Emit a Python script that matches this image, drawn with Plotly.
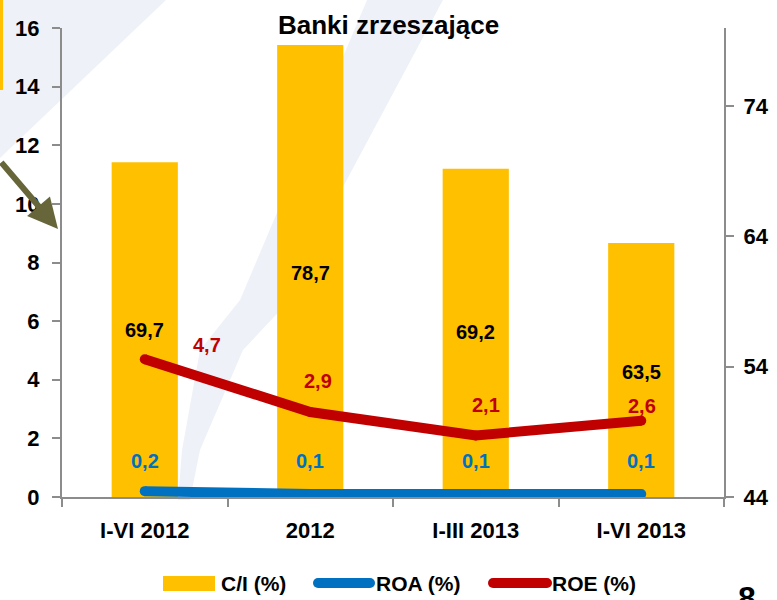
import plotly.graph_objects as go

categories = ["I-VI 2012", "2012", "I-III 2013", "I-VI 2013"]
ci_values = [69.7, 78.7, 69.2, 63.5]
roa_values = [0.2, 0.1, 0.1, 0.1]
roe_values = [4.7, 2.9, 2.1, 2.6]
left_ticks = [0, 2, 4, 6, 8, 10, 12, 14, 16]
right_ticks = [44, 54, 64, 74]

xpos = list(range(len(categories)))
boundaries = [i - 0.5 for i in range(len(categories) + 1)]

YELLOW = "#FFC000"
BLUE = "#0070C0"
RED = "#C00000"
GRAY = "#8C8C8C"
FONT = "Liberation Sans, Arial, sans-serif"

W, H = 777, 600
L, R, T, B = 62, 724, 28, 497


def fx(px):
    return (px - L) / (R - L)


def fy(py):
    return (B - py) / (B - T)


def fmt(v):
    return f"{v:.1f}".replace(".", ",")


fig = go.Figure()
fig.add_trace(go.Bar(x=xpos, y=ci_values, marker=dict(color=YELLOW, line=dict(width=0)), width=0.4,
                     name="C/I (%)", yaxis="y", showlegend=False))
fig.add_trace(go.Scatter(x=xpos, y=roa_values, mode="lines+markers",
                         line=dict(color=BLUE, width=10), marker=dict(color=BLUE, size=10),
                         name="ROA (%)", yaxis="y2", showlegend=False))
fig.add_trace(go.Scatter(x=xpos, y=roe_values, mode="lines+markers",
                         line=dict(color=RED, width=10), marker=dict(color=RED, size=10),
                         name="ROE (%)", yaxis="y2", showlegend=False))

ann = []
# C/I labels (inside bars)
ci_label_py = [330, 273, 332, 372]
for i, (v, py) in enumerate(zip(ci_values, ci_label_py)):
    ann.append(dict(x=i, xref="x", y=fy(py), yref="paper", text=fmt(v), showarrow=False,
                    font=dict(family=FONT, size=20, color="black", weight="bold"), yanchor="middle"))
# ROE labels
roe_pos = [(62, 345), (8, 381), (10, 405), (1, 406)]
for i, (v, (dx, py)) in enumerate(zip(roe_values, roe_pos)):
    ann.append(dict(x=i, xref="x", y=fy(py), yref="paper", text=fmt(v), showarrow=False,
                    xshift=dx, font=dict(family=FONT, size=20, color=RED, weight="bold"),
                    yanchor="middle"))
# ROA labels
for i, v in enumerate(roa_values):
    ann.append(dict(x=i, xref="x", y=fy(461), yref="paper", text=fmt(v), showarrow=False,
                    font=dict(family=FONT, size=20, color=BLUE, weight="bold"),
                    yanchor="middle"))
# Title
ann.append(dict(x=fx(388), y=fy(25), xref="paper", yref="paper", text="Banki zrzeszające",
                showarrow=False, font=dict(family=FONT, size=26, color="black", weight="bold"),
                xanchor="center", yanchor="middle"))
# Legend texts
for txt, px in [("C/I (%)", 219), ("ROA (%)", 374), ("ROE (%)", 550)]:
    ann.append(dict(x=fx(px), y=fy(583), xref="paper", yref="paper", text=txt,
                    showarrow=False, xanchor="left", yanchor="middle",
                    font=dict(family=FONT, size=21, color="black", weight="bold")))
# page number
ann.append(dict(x=fx(747), y=fy(578), xref="paper", yref="paper", text="8",
                showarrow=False, xanchor="center", yanchor="top",
                font=dict(family=FONT, size=32, color="black", weight="bold")))
# decorative arrow
ann.append(dict(x=fx(58), y=fy(229), xref="paper", yref="paper", text="",
                showarrow=True, ax=-60, ay=-68, axref="pixel", ayref="pixel",
                arrowhead=2, arrowsize=1.0, arrowwidth=6, arrowcolor="#66663A"))

shapes = []
WM = "#EEF2F8"


def poly(points):
    return "M " + " L ".join(f"{fx(x)},{fy(y)}" for x, y in points) + " Z"


shapes.append(dict(type="path", xref="paper", yref="paper", layer="below",
                   path=poly([(0, 0), (166, 0), (0, 158)]), fillcolor=WM, line=dict(width=0)))
shapes.append(dict(type="path", xref="paper", yref="paper", layer="below",
                   path=poly([(367, 0), (443, 0), (343, 187), (290, 300), (243, 350), (200, 450),
                              (190, 500), (178, 500), (182, 450), (200, 350), (240, 300)]),
                   fillcolor=WM, line=dict(width=0)))
shapes.append(dict(type="rect", xref="paper", yref="paper", layer="below",
                   x0=fx(0), x1=fx(3), y0=fy(0), y1=fy(90), fillcolor=YELLOW, line=dict(width=0)))
# legend symbols
shapes.append(dict(type="rect", xref="paper", yref="paper",
                   x0=fx(163), x1=fx(215), y0=fy(576), y1=fy(591), fillcolor=YELLOW, line=dict(width=0)))
for x0, x1, col in [(318, 370, BLUE), (493, 547, RED)]:
    shapes.append(dict(type="rect", xref="paper", yref="paper",
                       x0=fx(x0), x1=fx(x1), y0=fy(578), y1=fy(588), fillcolor=col, line=dict(width=0)))
    for cx in (x0, x1):
        shapes.append(dict(type="circle", xref="paper", yref="paper",
                           x0=fx(cx - 5), x1=fx(cx + 5), y0=fy(578), y1=fy(588),
                           fillcolor=col, line=dict(width=0)))

tickfont = dict(family=FONT, size=22, color="black", weight="bold")

fig.update_layout(
    width=W, height=H,
    margin=dict(l=L, r=W - R, t=T, b=H - B, pad=0, autoexpand=False),
    paper_bgcolor="white", plot_bgcolor="rgba(0,0,0,0)",
    separators=",.",
    xaxis=dict(range=[-0.5, 3.5], tickvals=xpos, ticktext=categories, tickangle=0,
               showgrid=False, zeroline=False, showline=True, linecolor=GRAY, linewidth=2,
               ticks="outside", ticklen=8, tickcolor="rgba(0,0,0,0)",
               minor=dict(tickvals=boundaries, ticks="outside", ticklen=8, tickcolor=GRAY,
                          tickwidth=2, showgrid=False),
               tickfont=tickfont, ticklabelstandoff=5, automargin=False, fixedrange=True),
    yaxis=dict(side="right", range=[44, 80], tickvals=right_ticks, showgrid=False, zeroline=False,
               showline=True, linecolor=GRAY, linewidth=2, ticks="outside", ticklen=8,
               tickcolor=GRAY, tickwidth=2, tickfont=tickfont, ticklabelstandoff=5,
               automargin=False),
    yaxis2=dict(side="left", overlaying="y", range=[0, 16], tickvals=left_ticks, showgrid=False,
                zeroline=False, showline=True, linecolor=GRAY, linewidth=2, ticks="outside",
                ticklen=8, tickcolor=GRAY, tickwidth=2, tickfont=tickfont,
                ticklabelstandoff=8, automargin=False),
    annotations=ann,
    shapes=shapes,
    showlegend=False,
)

fig.write_html("out.html", config={"displayModeBar": False},
               post_script="document.body.style.margin='0px';document.body.style.overflow='hidden';")
